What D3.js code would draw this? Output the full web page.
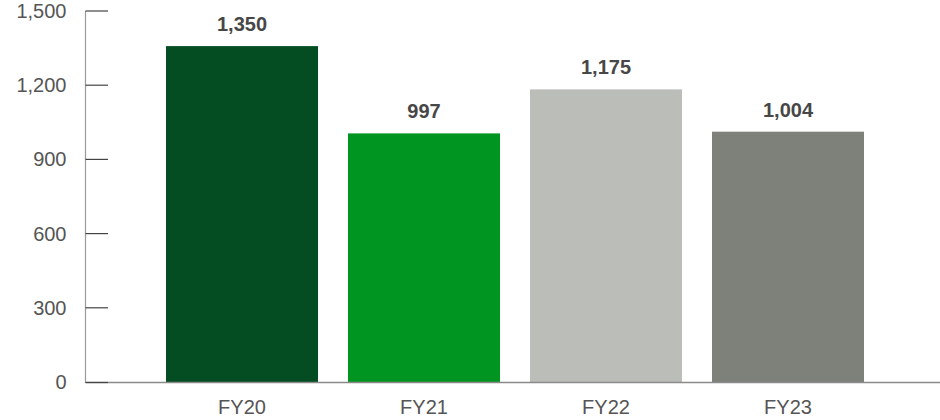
<!DOCTYPE html>
<html>
<head>
<meta charset="utf-8">
<script src="https://cdn.jsdelivr.net/npm/d3@7"></script>
<style>
  html, body { margin: 0; padding: 0; background: #fff; }
  svg { display: block; font-family: "Liberation Sans", Arial, Helvetica, sans-serif; }
</style>
</head>
<body>
<svg id="chart" width="940" height="420"></svg>
<script>
const categories = ["FY20", "FY21", "FY22", "FY23"];
const values = [1350, 997, 1175, 1004];
const valueLabels = ["1,350", "997", "1,175", "1,004"];
const barColors = ["#044d22", "#009420", "#bbbdb8", "#7e807a"];
const yTicks = [0, 300, 600, 900, 1200, 1500];

const svg = d3.select("#chart");
const axisX = 85.5;
const y = d3.scaleLinear().domain([0, 1500]).range([382, 11]);
const x = d3.scaleBand().domain(categories).range([166, 864]).paddingInner(30 / 182).paddingOuter(0);
const bw = x.bandwidth();

// bars
svg.append("g").selectAll("rect").data(values).join("rect")
  .attr("x", (d, i) => x(categories[i]))
  .attr("width", bw)
  .attr("y", d => y(d) - 2)
  .attr("height", d => y(0) - y(d) + 2)
  .attr("fill", (d, i) => barColors[i]);

// value labels
svg.append("g").selectAll("text").data(values).join("text")
  .attr("x", (d, i) => x(categories[i]) + bw / 2)
  .attr("y", d => y(d) - 17)
  .attr("text-anchor", "middle")
  .attr("font-size", 20)
  .attr("font-weight", "bold")
  .attr("fill", "#474747")
  .text((d, i) => valueLabels[i]);

// y axis
const yAxis = d3.axisLeft(y).tickValues(yTicks).tickFormat(d3.format(",")).tickSize(0).tickPadding(19);
const gy = svg.append("g").attr("transform", `translate(${axisX},0)`).call(yAxis);
gy.select(".domain").remove();
gy.selectAll("text").attr("font-size", 20).attr("fill", "#555").attr("font-family", "'Liberation Sans', Arial, sans-serif");

// baseline
svg.append("line")
  .attr("x1", axisX).attr("x2", 940)
  .attr("y1", y(0) + 0.5).attr("y2", y(0) + 0.5)
  .attr("stroke", "#8a8a8a").attr("stroke-width", 1.6);

// vertical axis line
svg.append("line")
  .attr("x1", axisX).attr("x2", axisX)
  .attr("y1", y(1500)).attr("y2", y(0) + 1)
  .attr("stroke", "#999").attr("stroke-width", 1.2);

// tick marks (extend right of axis)
svg.append("g").selectAll("line").data(yTicks).join("line")
  .attr("x1", axisX).attr("x2", 108)
  .attr("y1", d => y(d) + (d === 0 ? 0.5 : 0)).attr("y2", d => y(d) + (d === 0 ? 0.5 : 0))
  .attr("stroke", "#444").attr("stroke-width", 1.2);

// x labels
svg.append("g").selectAll("text").data(categories).join("text")
  .attr("x", c => x(c) + bw / 2)
  .attr("y", 414)
  .attr("text-anchor", "middle")
  .attr("font-size", 20)
  .attr("fill", "#555")
  .text(c => c);
</script>
</body>
</html>
